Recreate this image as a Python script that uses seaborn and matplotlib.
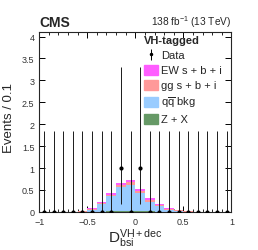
import numpy as np
import pandas as pd
import matplotlib
matplotlib.use("Agg")
import matplotlib.pyplot as plt
import matplotlib.patches as mpatches
from matplotlib.ticker import MultipleLocator
import seaborn as sns

edges = [round(-1.0 + 0.1 * i, 2) for i in range(21)]
centers = [round(-0.95 + 0.1 * i, 3) for i in range(20)]

# stacked expectations per bin (20 bins, -1 .. 1)
zx = [0, 0, 0, 0, 0, 0, 0.005, 0.01, 0.015, 0.02, 0.015, 0.01, 0.005, 0, 0, 0, 0, 0, 0, 0]
qq = [0, 0, 0, 0, 0.005, 0.045, 0.175, 0.35, 0.545, 0.6, 0.405, 0.22, 0.12, 0.05, 0.02, 0.005, 0, 0, 0, 0]
gg = [0, 0, 0, 0, 0.012, 0.02, 0.03, 0.035, 0.05, 0.055, 0.045, 0.05, 0.03, 0.02, 0.012, 0.012, 0, 0, 0, 0]
ew = [0, 0, 0, 0, 0.003, 0.015, 0.025, 0.035, 0.05, 0.055, 0.045, 0.04, 0.015, 0.01, 0.008, 0.003, 0, 0, 0, 0]

data = [0, 0, 0, 0, 0, 0, 0, 0, 1, 0, 1, 0, 0, 0, 0, 0, 0, 0, 0, 0]
err_lo = [0.0 if n == 0 else 0.827 for n in data]
err_hi = [1.841 if n == 0 else 2.300 for n in data]

labels = ["EW s + b + i", "gg s + b + i", r"q$\overline{\rm q}$ bkg", "Z + X"]
colors = ["#ff5cff", "#ff9999", "#99ccff", "#669966"]

df = pd.concat([
    pd.DataFrame({"x": centers, "w": vals, "proc": lab})
    for lab, vals in zip(labels, [ew, gg, qq, zx])
], ignore_index=True)

sns.set_style("ticks")
plt.rcParams["font.family"] = ["Liberation Sans", "DejaVu Sans"]
plt.rcParams["mathtext.fontset"] = "custom"
plt.rcParams["mathtext.rm"] = "Liberation Sans"
plt.rcParams["mathtext.it"] = "Liberation Sans"

fig, ax = plt.subplots(figsize=(2.58, 2.51), dpi=100)
fig.subplots_adjust(left=0.152, right=0.897, bottom=0.152, top=0.868)

sns.histplot(data=df, x="x", weights="w", hue="proc", hue_order=labels,
             palette=dict(zip(labels, colors)), multiple="stack", bins=edges,
             alpha=1, linewidth=0, legend=False, ax=ax)

# data points with Poisson intervals
lo = np.array(data) - np.array(err_lo)
hi = np.array(data) + np.array(err_hi)
ax.vlines(centers, lo, hi, colors="#1a1a1a", lw=0.7, zorder=4)
ax.plot(centers, data, "o", color="black", ms=2, zorder=5)

ax.set_xlim(-1, 1)
ax.set_ylim(0, 4.1)
ax.xaxis.set_minor_locator(MultipleLocator(0.1))
ax.set_xticks([-1, -0.5, 0, 0.5, 1])
ax.set_xticklabels(["\u22121", "\u22120.5", "0", "0.5", "1"])
ax.set_yticks(np.arange(0, 4.01, 0.5))
ax.set_yticklabels(["0", "0.5", "1", "1.5", "2", "2.5", "3", "3.5", "4"])
ax.tick_params(which="both", direction="in", top=True, right=True, labelsize=6.5,
               colors="black", labelcolor="#333333")
ax.tick_params(which="major", length=4, width=0.7)
ax.tick_params(which="minor", length=2, width=0.6)
for s in ax.spines.values():
    s.set_linewidth(0.8)

ax.set_xlabel(r"D$_{\rm bsi}^{\rm VH+dec}$", fontsize=11, labelpad=0)
ax.set_ylabel("Events / 0.1", fontsize=9.5)
ax.yaxis.set_label_coords(-0.125, 0.53)

ax.text(0.0, 1.015, "CMS", transform=ax.transAxes, fontsize=10, fontweight="bold",
        ha="left", va="bottom")
ax.text(1.0, 1.015, r"138 fb$^{-1}$ (13 TeV)", transform=ax.transAxes, fontsize=7.3,
        ha="right", va="bottom")

handles = [ax.errorbar([], [], yerr=[], fmt="o", color="black", ms=1.5,
                       elinewidth=0.7, capsize=1)]
handles += [mpatches.Patch(color=c, label=l) for c, l in zip(colors, labels)]
leg = ax.legend(handles, ["Data"] + labels, title="VH-tagged", loc="upper left",
                bbox_to_anchor=(0.52, 1.006), frameon=False, fontsize=8,
                handlelength=1.3, handleheight=1.0, handletextpad=0.3,
                labelspacing=0.38, borderaxespad=0.0)
leg.get_title().set_fontweight("bold")
leg.get_title().set_fontsize(8)
leg._legend_box.align = "left"

fig.savefig("out.png", dpi=100)
